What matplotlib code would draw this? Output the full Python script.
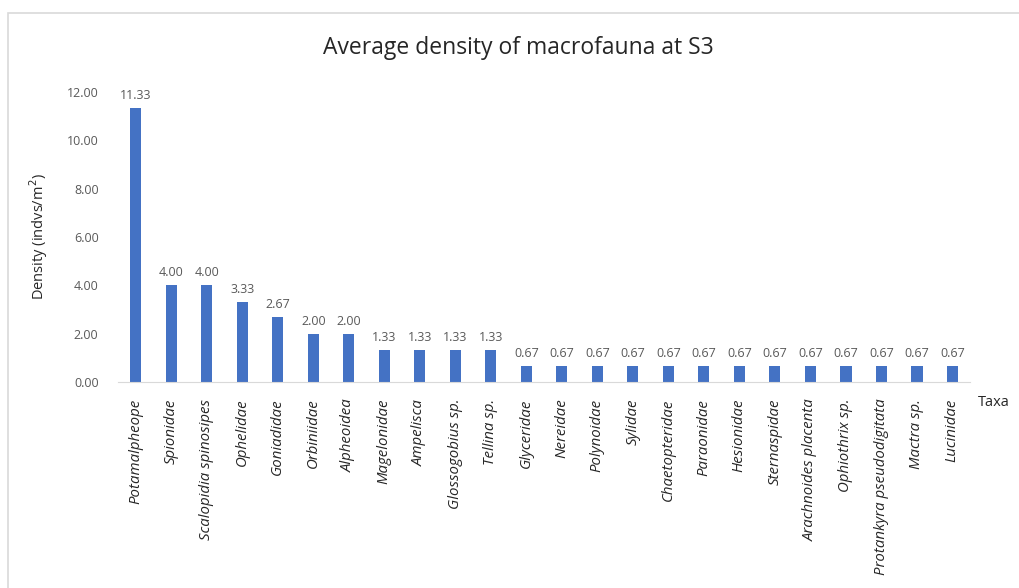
import matplotlib.pyplot as plt
from matplotlib.patches import Rectangle

taxa = ["Potamalpheope", "Spionidae", "Scalopidia spinosipes", "Ophelidae",
        "Goniadidae", "Orbiniidae", "Alpheoidea", "Magelonidae", "Ampelisca",
        "Glossogobius sp.", "Tellina sp.", "Glyceridae", "Nereidae",
        "Polynoidae", "Sylidae", "Chaetopteridae", "Paraonidae", "Hesionidae",
        "Sternaspidae", "Arachnoides placenta", "Ophiothrix sp.",
        "Protankyra pseudodigitata", "Mactra sp.", "Lucinidae"]
density = [11.33, 4.00, 4.00, 3.33, 2.67, 2.00, 2.00, 1.33, 1.33, 1.33, 1.33,
           0.67, 0.67, 0.67, 0.67, 0.67, 0.67, 0.67, 0.67, 0.67, 0.67, 0.67,
           0.67, 0.67]
yticks = [0, 2, 4, 6, 8, 10, 12]

plt.rcParams['font.family'] = ['Open Sans', 'DejaVu Sans']

fig = plt.figure(figsize=(10.19, 5.88), dpi=100)
# outer chart frame
fig.patches.append(Rectangle((8 / 1019, -0.05), 1.1, 1 - 13 / 588 + 0.05,
                             transform=fig.transFigure, fill=False,
                             edgecolor="#d9d9d9", linewidth=1.2))

ax = fig.add_axes([0.1158, 0.3503, 0.8362, 0.4932])
x = range(len(taxa))
ax.bar(x, density, width=0.32, color="#4472C4")
for i, v in enumerate(density):
    ax.text(i, v + 0.25, f"{v:.2f}", ha='center', va='bottom',
            fontsize=9, color="#595959")

ax.set_xlim(-0.5, len(taxa) - 0.5)
ax.set_ylim(0, 12)
ax.set_yticks(yticks)
ax.set_yticklabels([f"{t:.2f}" for t in yticks], fontsize=9, color="#595959")
ax.set_xticks(list(x))
ax.set_xticklabels(taxa, rotation=90, fontsize=10.8, style='italic',
                   color="#262626")
ax.tick_params(length=0)
ax.tick_params(axis='x', pad=12)
ax.tick_params(axis='y', pad=14)
for s in ['top', 'right', 'left']:
    ax.spines[s].set_visible(False)
ax.spines['bottom'].set_color("#d9d9d9")

ax.set_ylabel("Density (indvs/m$^2$)", fontsize=10.5, color="#262626", labelpad=12)
fig.text(978 / 1019, 1 - 403 / 588, "Taxa", fontsize=10.5, color="#262626",
         ha='left', va='center')
fig.text(518 / 1019, 1 - 48 / 588, "Average density of macrofauna at S3",
         fontsize=16.5, color="#262626", ha='center', va='center')

fig.savefig("out.png", dpi=100)
